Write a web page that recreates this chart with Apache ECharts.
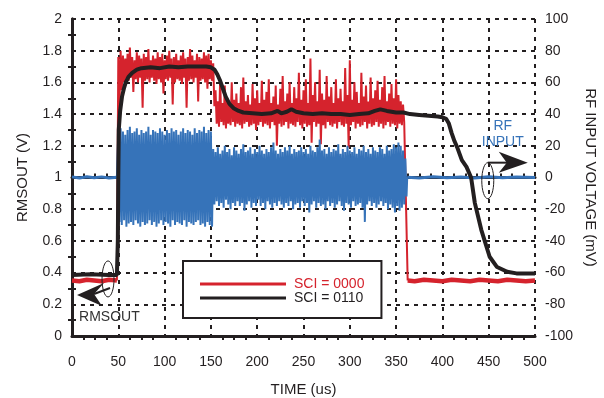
<!DOCTYPE html>
<html><head><meta charset="utf-8">
<script src="https://cdn.jsdelivr.net/npm/echarts@6/dist/echarts.min.js"></script>
<style>html,body{margin:0;padding:0;background:#fff}#c{width:604px;height:398px}</style>
</head><body><div id="c"></div>
<script>
// ---------- data ----------
const xTicks = [0, 50, 100, 150, 200, 250, 300, 350, 400, 450, 500];
const leftTicks = [0, 0.2, 0.4, 0.6, 0.8, 1, 1.2, 1.4, 1.6, 1.8, 2];
const rightTicks = [-100, -80, -60, -40, -20, 0, 20, 40, 60, 80, 100];

// noisy section sampling grid (us)
const noiseStart = 50, noiseStep = 2.5;

// RF INPUT (mV) – quiet parts
const bluePre = [[0,0.4],[8,-0.3],[16,0.5],[24,-0.2],[32,0.4],[40,-0.3],[48.5,0.2]];
const bluePost = [[362,0.2],[375,-0.3],[390,0.4],[405,-0.2],[420,0.3],[435,-0.3],[450,0.4],[465,-0.2],[480,0.3],[500,0]];
// RF INPUT (mV) – noisy burst, positive and negative peaks
const blueHi = [28,31,29,27,30,32,28,29,31,27,30,28,29,32,27,30,29,28,31,29,27,30,28,31,29,30,27,29,31,28,30,29,27,31,28,30,29,32,28,30,29,
 18,16,19,15,17,20,16,18,14,19,
 17,15,18,21,16,17,19,15,18,16,
 20,17,15,18,16,19,22,17,15,18,
 16,19,17,20,15,18,16,17,19,16,
 18,15,20,17,16,19,24,17,18,15,
 19,16,18,17,21,15,18,16,20,17,
 16,19,15,18,17,20,16,18,15,19,
 17,16,19,18,15,20,17,18,21,19,
 22,20,17,12];
const blueLo = [-28,-30,-27,-31,-29,-28,-30,-27,-29,-31,-28,-30,-29,-27,-30,-28,-31,-29,-27,-30,-28,-29,-31,-27,-30,-28,-29,-30,-27,-31,-28,-29,-30,-28,-27,-30,-29,-31,-28,-30,-31,
 -17,-15,-18,-16,-19,-14,-17,-20,-16,-18,
 -15,-18,-16,-21,-17,-15,-19,-16,-18,-14,
 -18,-16,-20,-15,-17,-19,-16,-18,-15,-17,
 -19,-16,-18,-15,-20,-17,-16,-19,-15,-18,
 -16,-22,-17,-15,-19,-16,-18,-17,-20,-15,
 -18,-16,-19,-17,-15,-18,-21,-16,-17,-19,
 -15,-18,-17,-16,-19,-28,-17,-15,-18,-16,
 -19,-17,-15,-18,-16,-20,-17,-19,-22,-18,
 -21,-19,-17,-12];

// RMSOUT (V), SCI = 0000 – quiet parts
const redPre = [[0,0.35],[8,0.345],[16,0.355],[24,0.35],[32,0.345],[40,0.355],[48.5,0.35]];
const redPost = [[362.5,0.35],[370,0.345],[380,0.355],[390,0.35],[400,0.345],[410,0.355],[420,0.35],[430,0.345],[440,0.355],[450,0.35],[460,0.345],[470,0.355],[480,0.35],[490,0.345],[500,0.35]];
const redFall = [[359.5,1.36],[362.5,0.35]];
// RMSOUT (V), SCI = 0000 – noisy section, upper and lower peaks
const redHi = [1.76,1.80,1.77,1.75,1.78,1.82,1.76,1.74,1.79,1.77,1.75,1.78,1.76,1.81,1.74,1.77,1.75,1.79,1.76,1.78,1.74,1.77,1.80,1.75,1.76,1.78,1.74,1.77,1.79,1.75,1.76,1.81,1.77,1.74,1.78,1.76,1.75,1.79,1.77,1.78,1.74,
 1.72,
 1.55,1.48,1.62,1.47,1.58,1.50,1.46,1.60,1.49,1.53,
 1.47,1.57,1.63,1.48,1.52,1.46,1.59,1.50,1.55,1.47,
 1.61,1.49,1.54,1.62,1.47,1.51,1.58,1.46,1.56,1.64,
 1.48,1.53,1.60,1.47,1.57,1.50,1.66,1.49,1.55,1.62,
 1.47,1.75,1.52,1.60,1.48,1.68,1.53,1.49,1.64,1.51,
 1.57,1.47,1.62,1.50,1.56,1.48,1.69,1.52,1.74,1.49,
 1.60,1.54,1.47,1.66,1.51,1.58,1.48,1.63,1.50,1.55,
 1.61,1.49,1.57,1.64,1.48,1.53,1.59,1.50,1.62,1.52,
 1.48,1.46];
const redLo = [1.45,1.55,1.60,1.62,1.61,1.63,1.54,1.62,1.60,1.63,1.44,
 1.61,1.62,1.60,1.63,1.61,1.59,1.62,1.60,1.53,1.62,
 1.61,1.63,1.46,1.60,1.62,1.61,1.59,1.63,1.44,1.61,
 1.62,1.60,1.63,1.48,1.61,1.62,1.60,1.56,1.62,1.61,
 1.45,
 1.34,1.32,1.35,1.33,1.31,1.34,1.33,1.35,1.32,1.34,
 1.33,1.31,1.34,1.35,1.32,1.33,1.34,1.30,1.33,1.35,
 1.32,1.34,1.33,1.31,1.35,1.33,1.20,1.34,1.32,1.33,
 1.35,1.31,1.34,1.33,1.32,1.35,1.33,1.31,1.34,1.32,
 1.33,1.22,1.35,1.32,1.34,1.21,1.33,1.31,1.35,1.33,
 1.32,1.34,1.31,1.35,1.33,1.32,1.34,1.19,1.33,1.35,
 1.31,1.34,1.32,1.33,1.35,1.31,1.34,1.32,1.33,1.35,
 1.32,1.34,1.31,1.33,1.35,1.32,1.34,1.33,1.31,1.34,
 1.33,1.35];

// RMSOUT (V), SCI = 0110
const black = [[0,0.385],[20,0.39],[40,0.385],[48.5,0.385],[49.5,0.6],[50,1.0],[50.5,1.3],[52,1.42],[54,1.51],[56,1.56],[58,1.60],[61,1.635],[65,1.66],[70,1.68],[75,1.69],[85,1.695],[95,1.69],[105,1.70],[115,1.695],[125,1.70],[135,1.70],[145,1.70],[150,1.695],[154,1.68],[157,1.65],[160,1.61],[163,1.56],[166,1.51],[170,1.465],[175,1.435],[180,1.42],[185,1.41],[195,1.405],[205,1.40],[215,1.405],[222,1.42],[226,1.405],[232,1.415],[237,1.43],[242,1.415],[250,1.405],[260,1.40],[270,1.405],[280,1.40],[290,1.40],[300,1.395],[310,1.40],[320,1.405],[327,1.42],[333,1.43],[340,1.42],[350,1.41],[358,1.41],[365,1.40],[375,1.395],[385,1.39],[395,1.385],[400,1.38],[404,1.37],[407,1.34],[410,1.28],[413,1.23],[416,1.19],[421,1.11],[426,1.067],[431,1.00],[435,0.84],[442,0.67],[451,0.50],[459,0.435],[470,0.405],[480,0.395],[490,0.395],[500,0.395]];

const names = ['SCI = 0000', 'SCI = 0110'];

// ---------- chart ----------
const RED = '#d5232d', BLUE = '#3673b9', DARK = '#231f20';
const FONT = '"Liberation Sans", Arial, Helvetica, sans-serif';

function zigzag(hi, lo) {
  const out = [];
  for (let i = 0; i < hi.length; i++) {
    const t = noiseStart + i * noiseStep;
    out.push([t, hi[i]]);
    out.push([t + noiseStep / 2, lo[i]]);
  }
  return out;
}

const chart = echarts.init(document.getElementById('c'), null, {renderer: 'canvas'});
const axisLine = {show: true, lineStyle: {color: DARK, width: 3}};
const minor = {show: true, length: 4, lineStyle: {color: DARK, width: 2}};
const labelStyle = {color: DARK, fontSize: 14, fontFamily: FONT};
const dashed = {show: true, lineStyle: {color: DARK, width: 2, type: [4, 5]}};

const line = (name, data, color, width, yIdx) => ({
  name, type: 'line', data, yAxisIndex: yIdx, symbol: 'none', showSymbol: false, silent: true,
  animation: false, lineStyle: {color, width, join: 'bevel'}, itemStyle: {color}
});

const legendIcon = 'path://M0,0H86V3H0Z';

chart.setOption({
  animation: false,
  backgroundColor: '#fff',
  grid: {left: 72, right: 69, top: 19, bottom: 62, containLabel: false, outerBoundsMode: 'none'},
  xAxis: [{
    type: 'value', min: xTicks[0], max: xTicks[xTicks.length - 1], interval: 50,
    name: 'TIME (us)', nameLocation: 'middle', nameGap: 46, nameMoveOverlap: false,
    nameTextStyle: {color: DARK, fontSize: 15, fontFamily: FONT},
    axisLine, axisTick: {show: false}, minorTick: Object.assign({splitNumber: 4}, minor),
    axisLabel: Object.assign({margin: 19}, labelStyle), splitLine: dashed
  }, {
    type: 'value', position: 'top', min: xTicks[0], max: xTicks[xTicks.length - 1], interval: 50,
    axisLine, axisTick: {show: false}, minorTick: Object.assign({splitNumber: 4}, minor),
    axisLabel: {show: false}, splitLine: {show: false}
  }],
  yAxis: [{
    type: 'value', min: leftTicks[0], max: leftTicks[leftTicks.length - 1], interval: 0.2,
    name: 'RMSOUT (V)', nameLocation: 'middle', nameGap: 42, nameMoveOverlap: false,
    nameTextStyle: {color: DARK, fontSize: 15, fontFamily: FONT},
    axisLine, axisTick: {show: false}, minorTick: Object.assign({splitNumber: 2}, minor),
    axisLabel: Object.assign({margin: 10}, labelStyle), splitLine: dashed
  }, {
    type: 'value', min: rightTicks[0], max: rightTicks[rightTicks.length - 1], interval: 20,
    name: 'RF INPUT VOLTAGE (mV)', nameLocation: 'middle', nameGap: 48, nameRotate: -90, nameMoveOverlap: false,
    nameTextStyle: {color: DARK, fontSize: 15, fontFamily: FONT},
    axisLine, axisTick: {show: false}, minorTick: Object.assign({splitNumber: 2}, minor),
    axisLabel: Object.assign({margin: 10}, labelStyle), splitLine: {show: false}
  }],
  legend: {
    orient: 'vertical', left: 183, top: 261, padding: [16, 17, 13, 17],
    itemWidth: 86, itemHeight: 14, itemGap: 0, selectedMode: false,
    borderColor: DARK, borderWidth: 2, backgroundColor: '#fff', borderRadius: 0,
    textStyle: {fontSize: 14, fontFamily: FONT, padding: [0, 0, 0, 3]},
    data: [
      {name: names[0], icon: legendIcon, itemStyle: {color: RED, borderWidth: 0}, textStyle: {color: RED}},
      {name: names[1], icon: legendIcon, itemStyle: {color: DARK, borderWidth: 0}, textStyle: {color: DARK}}
    ]
  },
  series: [
    line(names[0], redPre, RED, 4.5, 0),
    line(names[0], redPost, RED, 4.5, 0),
    line(names[0], [redPre[redPre.length - 1]].concat(zigzag(redHi, redLo), redFall), RED, 2, 0),
    line('RF INPUT', bluePre, BLUE, 3, 1),
    line('RF INPUT', bluePost, BLUE, 3, 1),
    line('RF INPUT', [bluePre[bluePre.length - 1]].concat(zigzag(blueHi, blueLo), [bluePost[0]]), BLUE, 2, 1),
    line(names[1], black, DARK, 4, 0)
  ]
});

// ---------- annotations (anchored to data coordinates) ----------
const P = (t, v) => chart.convertToPixel({xAxisIndex: 0, yAxisIndex: 0}, [t, v]);
const e1 = P(38.9, 0.36);   // ellipse around the RMSOUT traces
const e2 = P(449, 0.98);    // ellipse around the RF INPUT trace
const ann = {type: 'group', silent: true, children: [
  {type: 'ellipse', shape: {cx: e1[0], cy: e1[1], rx: 6, ry: 18}, style: {fill: 'none', stroke: DARK, lineWidth: 1}, z: 100},
  {type: 'line', shape: {x1: e1[0] + 2, y1: e1[1] + 9, x2: e1[0] - 14, y2: e1[1] + 15}, style: {stroke: DARK, lineWidth: 2}, z: 100},
  {type: 'polygon', shape: {points: [[e1[0] - 31, e1[1] + 16], [e1[0] - 4, e1[1] + 4], [e1[0] - 14, e1[1] + 15], [e1[0] - 6, e1[1] + 27]]}, style: {fill: DARK}, z: 100},
  {type: 'text', style: {x: e1[0] - 29, y: e1[1] + 38, text: 'RMSOUT', fill: '#333', font: '14px ' + FONT, textVerticalAlign: 'middle'}, z: 100},
  {type: 'ellipse', shape: {cx: e2[0], cy: e2[1], rx: 6, ry: 18}, style: {fill: 'none', stroke: DARK, lineWidth: 1}, z: 100},
  {type: 'line', shape: {x1: e2[0], y1: e2[1] - 18, x2: e2[0] + 20, y2: e2[1] - 18}, style: {stroke: DARK, lineWidth: 2}, z: 100},
  {type: 'polygon', shape: {points: [[e2[0] + 40, e2[1] - 18], [e2[0] + 11, e2[1] - 29], [e2[0] + 19, e2[1] - 18], [e2[0] + 11, e2[1] - 8]]}, style: {fill: DARK}, z: 100},
  {type: 'text', style: {x: e2[0] + 15, y: e2[1] - 55, text: 'RF', fill: BLUE, font: '14px ' + FONT, textAlign: 'center', textVerticalAlign: 'middle'}, z: 100},
  {type: 'text', style: {x: e2[0] + 15, y: e2[1] - 39, text: 'INPUT', fill: BLUE, font: '14px ' + FONT, textAlign: 'center', textVerticalAlign: 'middle'}, z: 100}
]};
chart.setOption({graphic: [ann]});
</script></body></html>
